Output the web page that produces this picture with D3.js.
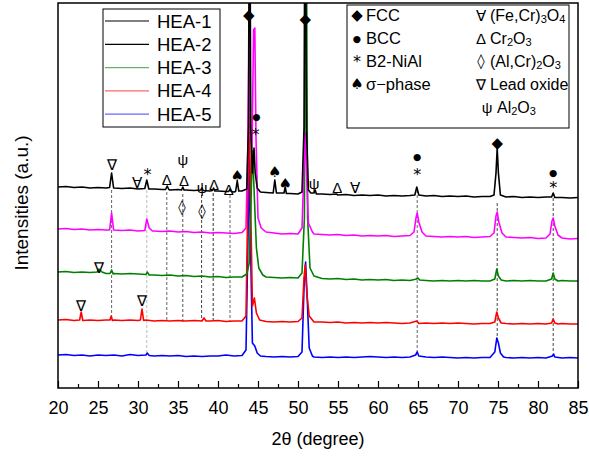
<!DOCTYPE html>
<html>
<head>
<meta charset="utf-8">
<script src="https://cdnjs.cloudflare.com/ajax/libs/d3/7.8.5/d3.min.js"></script>
<style>
body { margin: 0; background: #fff; }
text { font-family: Arial, "Liberation Sans", sans-serif; fill: #000; }
text.sym { font-family: "DejaVu Sans", sans-serif; }
</style>
</head>
<body>
<div id="chart"></div>
<script>
// XRD patterns, [2theta, intensity (a.u.)]
var hea1 = [[20,201],[21,201.5],[22,200.5],[23,201],[24,200],[25,200.5],[26,200],[26.45,200.5],[26.7,215],[26.95,200],[27,200],[28,199.5],[29,200],[30,199],[30.85,199.5],[31.1,208],[31.35,199],[32,199],[33,198.5],[33.45,198.5],[33.65,202],[33.85,198.5],[34,198],[35,198.5],[35.45,198],[35.6,201],[35.75,198],[36,198],[37,197.5],[37.85,198],[38,200],[38.15,197.5],[39,197],[39.3,197.5],[39.45,200],[39.6,197],[40,197],[41,196.5],[41.35,196.5],[41.5,199],[41.65,196.5],[42,196],[42.2,196.5],[42.4,207],[42.6,197],[43,197],[43.6,199],[43.8,260],[43.95,560],[44.1,260],[44.3,215],[44.5,240],[44.65,215],[44.9,200],[45.3,196],[46,195.5],[46.9,195],[47.1,208],[47.3,195],[48,195],[48.25,195],[48.4,201],[48.55,194.5],[49,194.5],[50,194],[50.5,196],[50.75,260],[50.9,560],[51.05,260],[51.3,198],[51.6,195],[52,195],[52.15,198],[52.3,194],[53,194],[54,193.5],[54.8,194],[55,193],[56,193.5],[57,192.5],[58,193],[59,192.5],[60,193],[61,192],[62,192.5],[63,192],[64,192.5],[64.6,193],[64.85,201],[65.1,193],[66,192],[67,192.5],[68,191.5],[69,192],[70,191.5],[71,192],[72,191],[73,191.5],[74,191.5],[74.5,193],[74.75,215],[74.9,240],[75.05,215],[75.3,193],[76,191],[77,191.5],[78,190.5],[79,191],[80,190.5],[81,191],[81.7,191],[81.9,195],[82.1,190.5],[83,190.5],[84,190],[85,190.5]];

var hea2 = [[20,159],[21,159.5],[22,158.5],[23,159],[24,158],[25,158.5],[26,158],[26.45,158],[26.7,175],[26.95,158],[27,158],[28,157.5],[29,158],[30,157],[30.85,157.5],[31.1,169],[31.4,160],[31.8,157],[32,157],[33,156.5],[34,157],[35,156],[36,156.5],[37,155.5],[38,156],[39,155],[40,155.5],[41,155],[42,154.5],[43,155.5],[43.5,160],[43.75,250],[43.9,361],[44.05,250],[44.25,240],[44.45,358],[44.6,360],[44.75,250],[45,170],[45.4,160],[46,156],[47,155],[48,154],[49,154.5],[50,154],[50.5,160],[50.75,220],[50.9,255],[51.05,220],[51.3,165],[51.8,156],[52,154],[53,153.5],[54,153],[55,153.5],[56,152.5],[57,153],[58,152],[59,152.5],[60,152],[61,152.5],[62,151.5],[63,152],[64,152.5],[64.5,156],[64.75,170],[64.9,175],[65.1,166],[65.5,156],[66,152],[67,151.5],[68,151],[69,151.5],[70,151],[71,151.5],[72,150.5],[73,151],[74,151.5],[74.5,155],[74.75,172],[74.9,176],[75.1,166],[75.5,155],[76,151],[77,150.5],[78,150],[79,150.5],[80,149.5],[81,150],[81.5,154],[81.75,167],[81.9,170],[82.1,162],[82.5,153],[83,150],[84,149],[85,149.5]];

var hea3 = [[20,116],[21,116.5],[22,115.5],[23,116],[24,115.5],[24.9,116],[25.1,119],[25.5,116],[26,114.5],[26.5,114.5],[26.7,118],[26.9,114],[27,114.5],[28,114],[29,114.5],[30,114],[31,113.5],[31.15,116],[31.4,113],[32,113],[33,112.5],[34,113],[35,112],[36,112.5],[37,111.5],[38,112],[39,111],[40,111.5],[41,110.5],[42,111],[43,111],[43.6,114],[43.9,125],[44.1,180],[44.3,238],[44.5,200],[44.8,140],[45.1,120],[45.6,113],[46,111],[47,110.5],[48,110],[49,110.5],[50,110],[50.5,115],[50.8,170],[51,560],[51.2,170],[51.5,120],[52,112],[53,109.5],[54,109],[55,109.5],[56,108.5],[57,109],[58,108],[59,108.5],[60,108],[61,108.5],[62,107.5],[63,108],[64,107.5],[64.8,109],[65,110],[65.2,108],[66,107.5],[67,107],[68,107.5],[69,107],[70,107.5],[71,107],[72,107.5],[73,107],[74,107],[74.6,109],[74.85,119],[75.05,112],[75.4,108],[76,107],[77,107.5],[78,107],[79,107.5],[80,107],[81,107],[81.7,109],[81.9,115],[82.1,109],[82.5,107],[83,107.5],[84,107],[85,107]];

var hea4 = [[20,68],[21,68.5],[22,67.5],[22.7,68],[22.9,76],[23.1,67.5],[24,68],[25,67.5],[26,68],[26.5,68],[26.65,72],[26.8,67.5],[27,68],[28,67.5],[29,68],[30,67.5],[30.3,68],[30.5,79],[30.7,67.5],[31,68],[32,67],[33,67.5],[34,67],[35,67.5],[36,67],[37,67.5],[38,67],[38.25,70],[38.5,67],[39,67],[40,67.5],[41,66.5],[42,67],[43,67],[43.5,72],[43.75,200],[43.9,293],[44.05,200],[44.3,82],[44.55,90],[44.8,75],[45.2,68],[46,66.5],[47,66],[48,66.5],[49,66],[50,66.5],[50.5,70],[50.75,110],[50.9,123],[51.1,95],[51.4,72],[52,66],[53,66],[54,65.5],[55,66],[56,65],[57,65.5],[58,65],[59,65.5],[60,65],[61,65.5],[62,65],[63,64.5],[64,65],[64.85,67],[65.1,64.5],[66,65],[67,64.5],[68,65],[69,64.5],[70,65],[71,64.5],[72,64],[73,64.5],[74,64.5],[74.6,66],[74.85,76],[75.05,70],[75.4,65],[76,64.5],[77,64],[78,64.5],[79,64],[80,64.5],[81,64],[81.7,65],[81.9,69],[82.1,65],[82.5,64],[83,64.5],[84,64],[85,64]];

var hea5 = [[20,33],[21,33.5],[22,32.5],[23,33],[24,32],[25,33],[26,32.5],[27,33],[28,32],[29,33.5],[30,32.5],[31,33],[31.15,35],[31.4,32.5],[32,32],[33,32.5],[34,32],[35,32.5],[36,31.5],[37,32],[38,31.5],[39,32],[40,32],[41,33],[42,32],[43,32.5],[43.5,38],[43.75,150],[43.9,233],[44.05,150],[44.3,45],[44.6,42],[44.9,35],[45.3,32],[46,31.5],[47,31],[48,31.5],[49,31],[50,31.5],[50.5,36],[50.75,100],[50.95,126],[51.15,90],[51.4,40],[51.8,32],[52,31],[53,30.5],[54,31],[55,30.5],[56,31],[57,30.5],[58,31],[59,31.5],[60,31],[61,30.5],[62,31],[63,30.5],[64,31],[64.7,33],[64.9,36],[65.1,32],[66,31],[67,30.5],[68,31],[69,30.5],[70,30],[71,30.5],[72,30],[73,30.5],[74,30.5],[74.6,36],[74.85,50],[75.05,45],[75.3,35],[75.7,31],[76,30.5],[77,30],[78,30.5],[79,30],[80,30.5],[81,30],[81.8,32],[81.95,34],[82.1,31],[83,30],[84,30.5],[85,30]];

var seriesNames = ["HEA-1", "HEA-2", "HEA-3", "HEA-4", "HEA-5"];
var seriesData = [hea1, hea2, hea3, hea4, hea5];
var traceColors = ["#000000", "#ff00ff", "#008000", "#ff0000", "#0000ff"];
var legendColors = ["#000000", "#000000", "#008000", "#ff0000", "#0000ff"];

// phase marks: [symbol, 2theta, intensity]
var marks = [
    ["\u2207", 26.7, 224], ["\u2200", 29.9, 206], ["*", 31.2, 214],
    ["\u0394", 33.6, 209], ["\u03c8", 35.6, 229], ["\u0394", 35.75, 208],
    ["\u03c8", 38.0, 201], ["\u0394", 39.5, 204], ["\u0394", 41.35, 199],
    ["\u2660", 42.4, 212], ["\u25c6", 43.85, 373], ["\u25cf", 44.8, 272],
    ["*", 44.7, 254], ["\u2660", 47.1, 216], ["\u2660", 48.4, 204],
    ["\u25c6", 50.9, 369], ["\u03c8", 52.0, 205], ["\u0394", 54.9, 201],
    ["\u2200", 57.1, 201], ["\u25cf", 64.9, 232], ["*", 64.9, 214],
    ["\u25c6", 74.9, 245], ["\u25cf", 81.9, 216], ["*", 81.9, 201],
    ["\u25ca", 35.5, 181], ["\u25ca", 38.0, 177],
    ["\u2207", 25.1, 121],
    ["\u2207", 22.9, 83], ["\u2207", 30.5, 88]
];

// dashed guide lines: [2theta, top intensity, bottom intensity, colour]
var guides = [
    [26.7, 198, 68, "#666"], [31.1, 198, 36, "#bbb"], [33.6, 196, 67, "#666"],
    [35.6, 194, 66, "#555"], [37.95, 193, 67, "#444"], [39.4, 195, 67, "#333"],
    [41.5, 193, 67, "#666"], [64.9, 198, 36, "#666"], [74.9, 185, 45, "#444"],
    [81.9, 195, 35, "#444"]
];

var xTicks = [20, 25, 30, 35, 40, 45, 50, 55, 60, 65, 70, 75, 80, 85];
var xMinor = [22.5, 27.5, 32.5, 37.5, 42.5, 47.5, 52.5, 57.5, 62.5, 67.5, 72.5, 77.5, 82.5];

// phase legend rows: [symbol, label parts]
var phaseLeft = [
    ["\u25c6", [["FCC"]]],
    ["\u25cf", [["BCC"]]],
    ["*", [["B2-NiAl"]]],
    ["\u2660", [["\u03c3\u2212phase"]]]
];
var phaseRight = [
    ["\u2200", [["(Fe,Cr)"], ["3", "sub"], ["O"], ["4", "sub"]]],
    ["\u0394", [["Cr"], ["2", "sub"], ["O"], ["3", "sub"]]],
    ["\u25ca", [["(Al,Cr)"], ["2", "sub"], ["O"], ["3", "sub"]]],
    ["\u2207", [["Lead oxide"]]],
    ["\u03c8", [["Al"], ["2", "sub"], ["O"], ["3", "sub"]]]
];

var W = 589, H = 458;
var margin = {top: 3, right: 11, bottom: 70, left: 58};
var width = W - margin.left - margin.right,
    height = H - margin.top - margin.bottom;

var svg = d3.select("#chart").append("svg")
    .attr("width", W)
    .attr("height", H)
    .append("g")
    .attr("transform", "translate(" + margin.left + "," + margin.top + ")");

var x = d3.scaleLinear().domain([20, 85]).range([0, width]);
var y = d3.scaleLinear().domain([0, 385]).range([height, 0]);

svg.append("clipPath").attr("id", "clip")
    .append("rect").attr("width", width).attr("height", height);

var plot = svg.append("g").attr("clip-path", "url(#clip)");

// guide lines first so the traces sit on top
plot.selectAll("line.guide")
    .data(guides)
    .enter().append("line")
    .attr("class", "guide")
    .attr("x1", function(d) { return x(d[0]); })
    .attr("x2", function(d) { return x(d[0]); })
    .attr("y1", function(d) { return y(d[1]); })
    .attr("y2", function(d) { return y(d[2]); })
    .attr("stroke", function(d) { return d[3]; })
    .attr("stroke-width", 1)
    .attr("stroke-dasharray", "3,2");

var line = d3.line()
    .x(function(d) { return x(d[0]); })
    .y(function(d) { return y(d[1]); });

var order = [4, 3, 2, 1, 0];
order.forEach(function(i) {
    plot.append("path")
        .datum(seriesData[i])
        .attr("fill", "none")
        .attr("stroke", traceColors[i])
        .attr("stroke-width", 1.6)
        .attr("stroke-linejoin", "round")
        .attr("d", line);
});

function symSize(s) {
    if (s == "*") return "16px";
    if (s == "\u25cf") return "9.5px";
    if (s == "\u25c6") return "15px";
    return "15px";
}
// filled glyphs come from DejaVu so they stay plain black
function symClass(s) {
    return (s == "*" || s == "\u25cf" || s == "\u25c6" || s == "\u2660" || s == "\u25ca") ? "sym" : "";
}

// phase symbols
plot.selectAll("text.mark")
    .data(marks)
    .enter().append("text")
    .attr("class", function(d) { return symClass(d[0]); })
    .attr("x", function(d) { return x(d[1]); })
    .attr("y", function(d) { return y(d[2]); })
    .attr("text-anchor", "middle")
    .attr("dominant-baseline", "central")
    .style("font-size", function(d) { return symSize(d[0]); })
    .text(function(d) { return d[0]; });

// axes
svg.append("g")
    .attr("transform", "translate(0," + height + ")")
    .call(d3.axisBottom(x).tickValues(xMinor).tickSize(-4).tickFormat(""))
    .call(function(g) { g.select(".domain").remove(); })
    .selectAll("line").attr("stroke-width", 1.2);

var xAxis = svg.append("g")
    .attr("transform", "translate(0," + height + ")")
    .call(d3.axisBottom(x).tickValues(xTicks).tickSize(-7).tickPadding(13))
    .call(function(g) { g.select(".domain").remove(); });
xAxis.selectAll("line").attr("stroke-width", 1.2);
xAxis.selectAll("text")
    .style("font-size", "18px")
    .attr("dy", "0.71em");

svg.append("rect")
    .attr("width", width)
    .attr("height", height)
    .attr("fill", "none")
    .attr("stroke", "#000")
    .attr("stroke-width", 1.5);

svg.append("text")
    .attr("x", width / 2)
    .attr("y", height + 57)
    .attr("text-anchor", "middle")
    .style("font-size", "18px")
    .text("2\u03b8 (degree)");

svg.append("text")
    .attr("transform", "rotate(-90)")
    .attr("x", -200)
    .attr("y", -30)
    .attr("text-anchor", "middle")
    .style("font-size", "19px")
    .text("Intensities (a.u.)");

// sample legend
var leg = svg.append("g").attr("transform", "translate(" + (103 - margin.left) + "," + (9 - margin.top) + ")");
leg.append("rect")
    .attr("width", 117).attr("height", 118)
    .attr("fill", "#fff").attr("stroke", "#000").attr("stroke-width", 1);
seriesNames.forEach(function(name, i) {
    var ly = 12 + i * 23.3;
    leg.append("line")
        .attr("x1", 2).attr("x2", 46)
        .attr("y1", ly).attr("y2", ly)
        .attr("stroke", legendColors[i])
        .attr("stroke-opacity", i > 1 ? 0.6 : 1)
        .attr("stroke-width", 1.2);
    leg.append("text")
        .attr("x", 54).attr("y", ly)
        .attr("dominant-baseline", "central")
        .style("font-size", "18.5px")
        .text(name);
});

// phase legend
var pleg = svg.append("g").attr("transform", "translate(" + (347 - margin.left) + "," + (5 - margin.top) + ")");
pleg.append("rect")
    .attr("width", 222).attr("height", 123)
    .attr("fill", "#fff").attr("stroke", "#000").attr("stroke-width", 1);

function addRow(g, row, sx, tx, ty, fs) {
    g.append("text")
        .attr("class", symClass(row[0]))
        .attr("x", sx).attr("y", ty)
        .attr("text-anchor", "middle")
        .attr("dominant-baseline", "central")
        .style("font-size", symSize(row[0]))
        .text(row[0]);
    var t = g.append("text")
        .attr("x", tx).attr("y", ty)
        .attr("dominant-baseline", "central")
        .style("font-size", fs);
    row[1].forEach(function(p, k) {
        var s = t.append("tspan").text(p[0]);
        if (p[1] == "sub") s.style("font-size", "11px").attr("dy", "4");
        else if (k > 0) s.attr("dy", "-4");
    });
}
phaseLeft.forEach(function(r, i) { addRow(pleg, r, 10, 19, 10 + i * 23, "16.5px"); });
phaseRight.forEach(function(r, i) { addRow(pleg, r, i == 4 ? 140 : 134, i == 4 ? 150 : 143, 10 + i * 23, "16px"); });
</script>
</body>
</html>
